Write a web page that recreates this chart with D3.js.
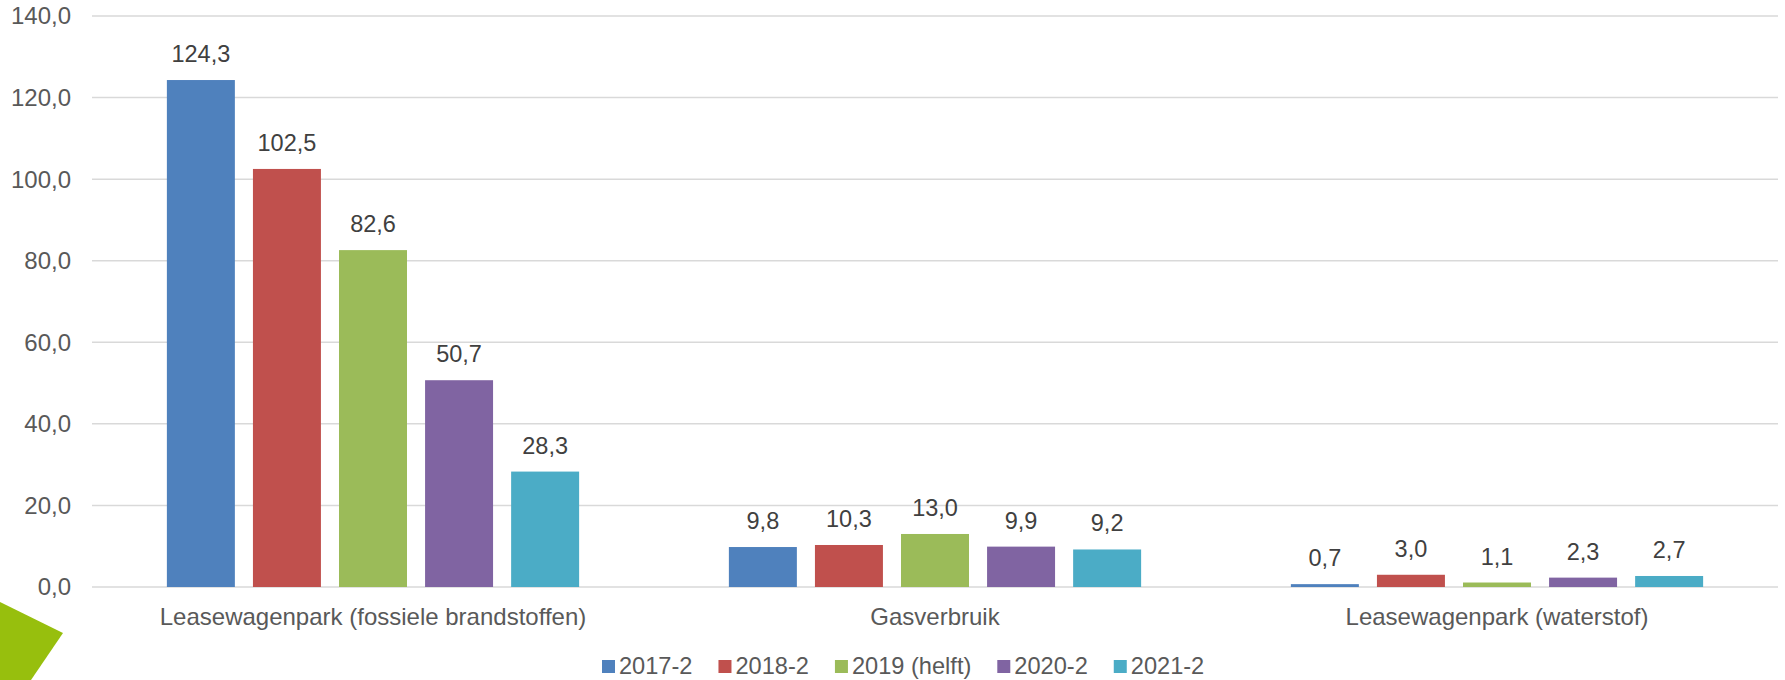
<!DOCTYPE html>
<html>
<head>
<meta charset="utf-8">
<script src="https://cdn.jsdelivr.net/npm/d3@7"></script>
<style>
  body { margin: 0; background: #fff; }
  svg { display: block; font-family: "Liberation Sans", Arial, sans-serif; }
</style>
</head>
<body>
<div id="chart"></div>
<script>
var categories = ["Leasewagenpark (fossiele brandstoffen)", "Gasverbruik", "Leasewagenpark (waterstof)"];
var seriesNames = ["2017-2", "2018-2", "2019 (helft)", "2020-2", "2021-2"];
var seriesColors = ["#4F81BD", "#C0504D", "#9BBB59", "#8064A2", "#4BACC6"];
// values per series, in category order
var v2017 = [124.3, 9.8, 0.7];
var v2018 = [102.5, 10.3, 3.0];
var v2019 = [82.6, 13.0, 1.1];
var v2020 = [50.7, 9.9, 2.3];
var v2021 = [28.3, 9.2, 2.7];
var yTicks = [0, 20, 40, 60, 80, 100, 120, 140];

var values = [v2017, v2018, v2019, v2020, v2021];

var width = 1785, height = 680;
var margin = {left: 92, right: 7, top: 16, bottom: 93};

var svg = d3.select("#chart").append("svg")
    .attr("width", width)
    .attr("height", height);

var fmt = function(v) { return d3.format(".1f")(v).replace(".", ","); };

var y = d3.scaleLinear()
    .domain([0, 140])
    .range([height - margin.bottom, margin.top]);

var x0 = d3.scaleBand()
    .domain(categories)
    .range([margin.left, width - margin.right]);

var x1 = d3.scaleBand()
    .domain(seriesNames)
    .range([0, x0.bandwidth()])
    .paddingInner(0.21)
    .paddingOuter(0.87);

// gridlines
svg.append("g").selectAll("line")
  .data(yTicks)
  .enter().append("line")
    .attr("x1", margin.left)
    .attr("x2", width - margin.right)
    .attr("y1", function(d) { return y(d); })
    .attr("y2", function(d) { return y(d); })
    .attr("stroke", "#d9d9d9")
    .attr("stroke-width", 1.5);

// y tick labels
svg.append("g").selectAll("text")
  .data(yTicks)
  .enter().append("text")
    .attr("x", 71)
    .attr("y", function(d) { return y(d); })
    .attr("dy", "0.35em")
    .attr("text-anchor", "end")
    .attr("fill", "#595959")
    .style("font-size", "24px")
    .text(fmt);

// bars
var groups = svg.append("g").selectAll("g")
  .data(seriesNames)
  .enter().append("g")
    .attr("fill", function(d, i) { return seriesColors[i]; });

groups.selectAll("rect")
  .data(function(s, si) { return categories.map(function(c, ci) { return {c: c, s: s, v: values[si][ci]}; }); })
  .enter().append("rect")
    .attr("x", function(d) { return x0(d.c) + x1(d.s); })
    .attr("width", x1.bandwidth())
    .attr("y", function(d) { return y(d.v); })
    .attr("height", function(d) { return y(0) - y(d.v); });

// value labels
groups.selectAll("text")
  .data(function(s, si) { return categories.map(function(c, ci) { return {c: c, s: s, v: values[si][ci]}; }); })
  .enter().append("text")
    .attr("x", function(d) { return x0(d.c) + x1(d.s) + x1.bandwidth() / 2; })
    .attr("y", function(d) { return y(d.v) - 18; })
    .attr("text-anchor", "middle")
    .attr("fill", "#404040")
    .style("font-size", "23.5px")
    .text(function(d) { return fmt(d.v); });

// category labels
svg.append("g").selectAll("text")
  .data(categories)
  .enter().append("text")
    .attr("x", function(d) { return x0(d) + x0.bandwidth() / 2; })
    .attr("y", 625)
    .attr("text-anchor", "middle")
    .attr("fill", "#595959")
    .style("font-size", "24px")
    .text(function(d) { return d; });

// legend
var legend = svg.append("g");
var lx = 602;
seriesNames.forEach(function(s, i) {
  legend.append("rect")
    .attr("x", lx).attr("y", 660)
    .attr("width", 13).attr("height", 13)
    .attr("fill", seriesColors[i]);
  var t = legend.append("text")
    .attr("x", lx + 17).attr("y", 674)
    .attr("fill", "#595959")
    .style("font-size", "23.6px")
    .text(s);
  lx += 17 + t.node().getComputedTextLength() + 26;
});

// green corner decoration
svg.append("polygon")
    .attr("points", "0,602 63,633 31,680 0,680")
    .attr("fill", "#97BF0D");
</script>
</body>
</html>
